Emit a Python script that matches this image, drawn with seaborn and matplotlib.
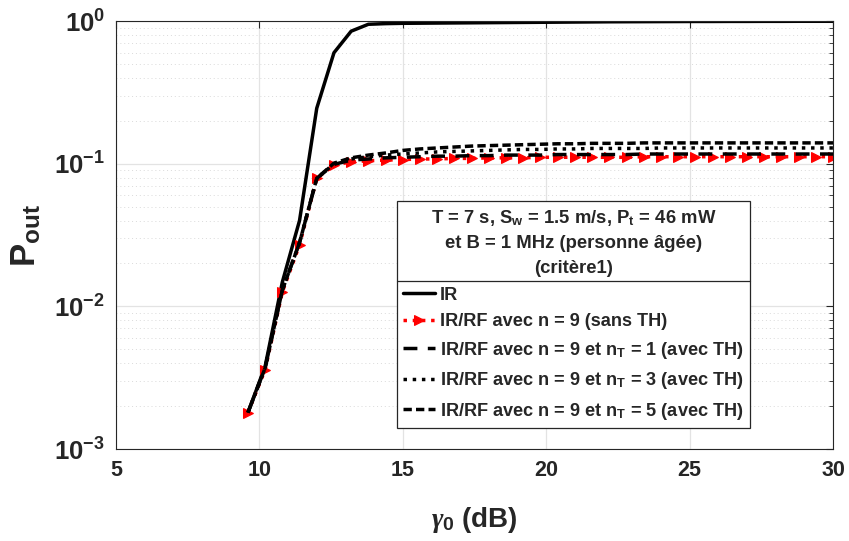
import matplotlib
matplotlib.use("Agg")
import numpy as np
import pandas as pd
import matplotlib.pyplot as plt
import seaborn as sns
from matplotlib.lines import Line2D
from matplotlib.ticker import FixedLocator, LogLocator, NullFormatter, FixedFormatter

# ---------------------------
# Data
# ---------------------------
gamma0_db = [9.6, 10.2, 10.8, 11.4, 12.0, 12.6, 13.2, 13.8, 14.4, 15.0,
             15.6, 16.2, 16.8, 17.4, 18.0, 18.6, 19.2, 19.8, 20.4, 21.0,
             21.6, 22.2, 22.8, 23.4, 24.0, 24.6, 25.2, 25.8, 26.4, 27.0,
             27.6, 28.2, 28.8, 29.4, 30.0]

p_ir = [0.0018, 0.0038, 0.0148, 0.040, 0.245, 0.60, 0.85, 0.95, 0.960, 0.965,
        0.967, 0.969, 0.971, 0.973, 0.975, 0.977, 0.979, 0.981, 0.983, 0.985,
        0.987, 0.989, 0.990, 0.991, 0.992, 0.993, 0.994, 0.994, 0.995, 0.995,
        0.996, 0.996, 0.997, 0.997, 0.997]

p_sans_th = [0.0018, 0.0036, 0.0126, 0.027, 0.079, 0.098, 0.103, 0.105, 0.106, 0.107,
             0.108, 0.108, 0.109, 0.109, 0.110, 0.110, 0.110, 0.111, 0.111, 0.111,
             0.111, 0.111, 0.111, 0.112, 0.112, 0.112, 0.112, 0.112, 0.112, 0.112,
             0.112, 0.112, 0.112, 0.112, 0.112]

p_nt1 = [0.0018, 0.0037, 0.0130, 0.028, 0.079, 0.099, 0.106, 0.108, 0.110, 0.111,
         0.112, 0.113, 0.113, 0.114, 0.114, 0.115, 0.115, 0.115, 0.116, 0.116,
         0.116, 0.116, 0.116, 0.117, 0.117, 0.117, 0.117, 0.117, 0.117, 0.117,
         0.117, 0.117, 0.117, 0.117, 0.117]

p_nt3 = [0.0018, 0.0037, 0.0130, 0.028, 0.079, 0.100, 0.108, 0.112, 0.115, 0.117,
         0.119, 0.121, 0.122, 0.123, 0.124, 0.125, 0.126, 0.126, 0.127, 0.127,
         0.128, 0.128, 0.128, 0.128, 0.129, 0.129, 0.129, 0.129, 0.129, 0.129,
         0.129, 0.129, 0.129, 0.129, 0.129]

p_nt5 = [0.0018, 0.0037, 0.0130, 0.028, 0.079, 0.101, 0.110, 0.115, 0.119, 0.124,
         0.127, 0.129, 0.131, 0.133, 0.134, 0.135, 0.136, 0.137, 0.138, 0.138,
         0.139, 0.139, 0.139, 0.140, 0.140, 0.140, 0.140, 0.140, 0.140, 0.140,
         0.140, 0.140, 0.140, 0.140, 0.140]

x_ticks = [5, 10, 15, 20, 25, 30]
y_ticks = [1e-3, 1e-2, 1e-1, 1e0]
y_tick_labels = [r"$\mathbf{10^{-3}}$", r"$\mathbf{10^{-2}}$",
                 r"$\mathbf{10^{-1}}$", r"$\mathbf{10^{0}}$"]

series_labels = [
    "IR",
    "IR/RF avec n = 9 (sans TH)",
    r"IR/RF avec n = 9 et n$_{\mathbf{T}}$ = 1 (avec TH)",
    r"IR/RF avec n = 9 et n$_{\mathbf{T}}$ = 3 (avec TH)",
    r"IR/RF avec n = 9 et n$_{\mathbf{T}}$ = 5 (avec TH)",
]
legend_title = ("T = 7 s, S$_{\\mathbf{w}}$ = 1.5 m/s, P$_{\\mathbf{t}}$ = 46 mW\n"
                "et B = 1 MHz (personne âgée)\n(critère1)")

# ---------------------------
# Style
# ---------------------------
sns.set_style("white")
plt.rcParams["font.family"] = ["Liberation Sans", "DejaVu Sans"]
plt.rcParams["font.weight"] = "bold"
plt.rcParams["mathtext.fontset"] = "custom"
plt.rcParams["mathtext.rm"] = "Liberation Sans:bold"
plt.rcParams["mathtext.bf"] = "Liberation Sans:bold"
plt.rcParams["mathtext.it"] = "Liberation Serif:italic"

fig = plt.figure(figsize=(8.49, 5.41), dpi=100)
ax = fig.add_axes([0.1366, 0.170, 0.8446, 0.791])

# ---------------------------
# Curves
# ---------------------------
sns.lineplot(x=gamma0_db, y=p_ir, ax=ax, color="black", linewidth=2.5,
             label=series_labels[0])
sns.lineplot(x=gamma0_db, y=p_sans_th, ax=ax, color="red", linewidth=2.5,
             linestyle=":", marker=">", markersize=7,
             markerfacecolor="red", markeredgecolor="red",
             label=series_labels[1])
sns.lineplot(x=gamma0_db, y=p_nt1, ax=ax, color="black", linewidth=2.5,
             linestyle=(0, (4, 3)), label=series_labels[2])
sns.lineplot(x=gamma0_db, y=p_nt3, ax=ax, color="black", linewidth=2.5,
             linestyle=":", label=series_labels[3])
sns.lineplot(x=gamma0_db, y=p_nt5, ax=ax, color="black", linewidth=2.5,
             linestyle=(0, (2.4, 1.2)), label=series_labels[4])

# ---------------------------
# Axes
# ---------------------------
ax.set_yscale("log")
ax.set_xlim(5, 30)
ax.set_ylim(1e-3, 1)

ax.xaxis.set_major_locator(FixedLocator(x_ticks))
ax.set_xticklabels([str(t) for t in x_ticks], fontsize=15.5, fontweight="bold")
ax.yaxis.set_major_locator(FixedLocator(y_ticks))
ax.yaxis.set_major_formatter(FixedFormatter(y_tick_labels))
ax.yaxis.set_minor_locator(LogLocator(base=10, subs=np.arange(2, 10)))
ax.yaxis.set_minor_formatter(NullFormatter())
for lab in ax.get_yticklabels():
    lab.set_fontsize(18.5)

ax.tick_params(axis="both", which="both", direction="in", top=True, right=True,
               colors="#262626", labelcolor="#262626")
ax.tick_params(axis="both", which="major", length=5, width=0.8, pad=8)
ax.tick_params(axis="y", which="minor", length=3, width=0.6)

ax.grid(True, which="major", color="#e3e3e3", linewidth=0.9)
ax.yaxis.grid(True, which="minor", color="#dadada", linestyle=(0, (1, 3)), linewidth=0.7)
ax.set_axisbelow(True)

for sp in ax.spines.values():
    sp.set_color("#262626")
    sp.set_linewidth(0.8)

ax.set_ylabel(r"$\mathbf{P_{out}}$", fontsize=25, color="#262626", labelpad=8)
ax.set_xlabel(r"$\gamma_{\mathbf{0}}$ (dB)", fontsize=20, color="#262626",
              fontweight="bold", labelpad=17)

# ---------------------------
# Legend with title box
# ---------------------------
leg = ax.legend(loc="upper left", bbox_to_anchor=(0.392, 0.579),
                borderaxespad=0, title=legend_title, fontsize=13.1,
                title_fontsize=13.3, frameon=True, fancybox=False,
                framealpha=1, edgecolor="#262626", handlelength=1.75,
                handletextpad=0.27, labelspacing=0.52, borderpad=0.35)
leg.get_frame().set_linewidth(0.9)
leg.get_title().set_multialignment("center")
leg.get_title().set_fontweight("bold")
leg.get_title().set_linespacing(1.6)

fig.canvas.draw()
renderer = fig.canvas.get_renderer()
t_bb = leg.get_title().get_window_extent(renderer)
f_bb = leg.get_frame().get_window_extent(renderer)
y_sep = t_bb.y0 - 4
inv = fig.transFigure.inverted()
(x0, y0), (x1, _) = inv.transform([(f_bb.x0, y_sep), (f_bb.x1, y_sep)])
fig.add_artist(Line2D([x0, x1], [y0, y0], transform=fig.transFigure,
                      color="#262626", linewidth=0.9))

plt.savefig("out.png", dpi=100)
plt.close()
